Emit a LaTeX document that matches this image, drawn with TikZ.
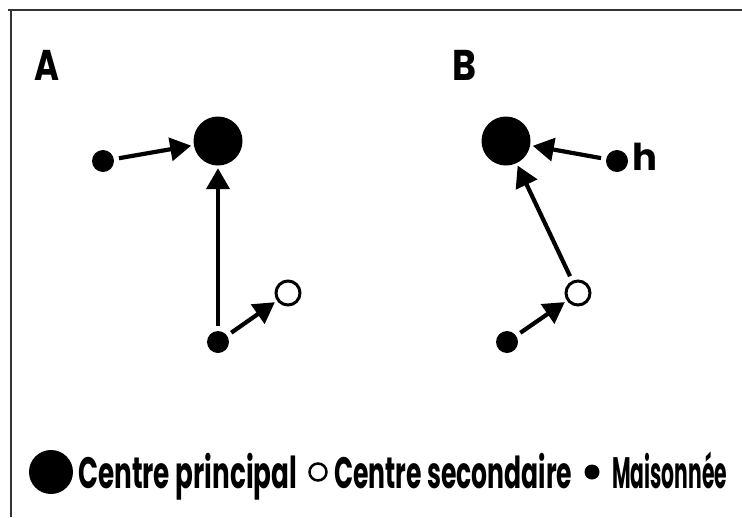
\documentclass[tikz,border=0pt]{standalone}
\usepackage{fontspec}
\setmainfont{Poppins}
\usetikzlibrary{arrows.meta}

\tikzset{
  princ/.style={circle, fill=black, inner sep=0pt, minimum size=49pt},
  menage/.style={circle, fill=black, inner sep=0pt, minimum size=22pt},
  second/.style={circle, draw=black, fill=white, line width=3pt, inner sep=0pt, minimum size=24pt},
  arr/.style={line width=4.2pt, -{Triangle[length=21pt,width=23pt]}, shorten >=2.5pt, shorten <=5pt},
  frame/.style={line width=2.2pt, black!80},
  panel/.style={anchor=base west, inner sep=0pt, font=\fontsize{43}{43}\selectfont\bfseries},
  legtxt/.style={anchor=base west, inner sep=0pt, font=\fontsize{44}{44}\selectfont\bfseries},
}

\begin{document}
\begin{tikzpicture}[x=1pt, y=-1pt]
\useasboundingbox (0,0) rectangle (742,517);

% open frame: top and left edges only
\draw[frame] (8,10) -- (742,10);
\draw[frame] (11,10) -- (11,517);

% panel titles
\node[panel] (ta) at (34,80) {\resizebox{25pt}{\height}{A}};
\node[panel] (tb) at (452,80) {\resizebox{24pt}{\height}{B}};

% panel A
\node[princ]  (pa) at (218,141) {};
\node[menage] (ha) at (103,161) {};
\node[menage] (hb) at (218,342) {};
\node[second] (sa) at (288,293) {};
\draw[arr] (ha) -- (pa);
\draw[arr] (hb) -- (pa);
\draw[arr] (hb) -- (sa);

% panel B
\node[princ]  (pb) at (506,141) {};
\node[menage] (hh) at (617,161) {};
\node[anchor=base west, inner sep=0pt, font=\fontsize{37}{37}\selectfont\bfseries] (lh) at (632,170) {h};
\node[second] (sb) at (578,293) {};
\node[menage] (hc) at (507,342) {};
\draw[arr] (hh) -- (pb);
\draw[arr] (sb) -- (pb);
\draw[arr] (hc) -- (sb);

% legend
\node[princ, minimum size=44pt] (lp) at (51,472) {};
\node[legtxt] (l1) at (78,488) {\resizebox{219pt}{\height}{Centre principal}};
\node[second, minimum size=17pt, line width=2.5pt] (ls) at (318,472) {};
\node[legtxt] (l2) at (334,488) {\resizebox{238pt}{\height}{Centre secondaire}};
\node[menage, minimum size=15pt] (lm) at (592,472) {};
\node[legtxt] (l3) at (612,488) {\resizebox{115pt}{\height}{Maisonnée}};
\end{tikzpicture}
\end{document}
